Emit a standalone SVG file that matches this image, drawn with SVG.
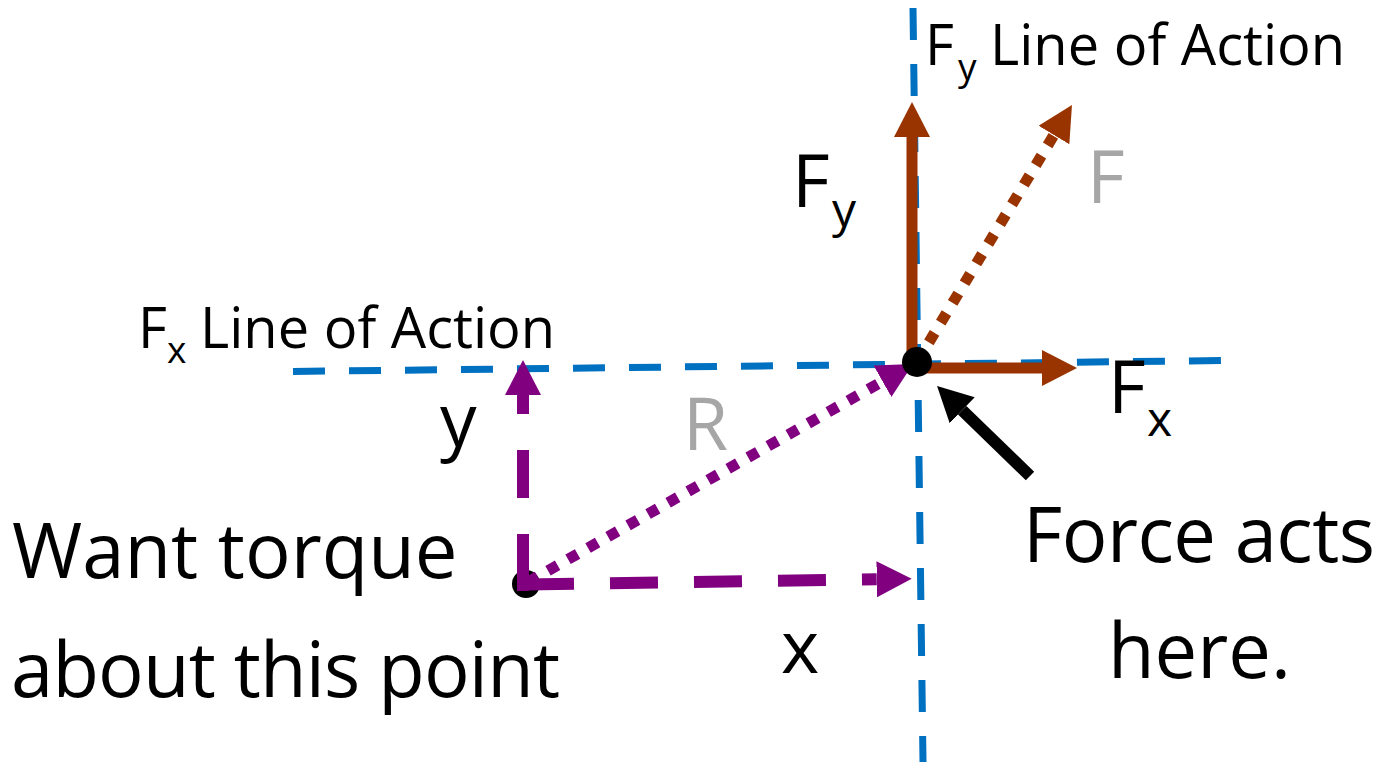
<svg xmlns="http://www.w3.org/2000/svg" width="1378" height="763" viewBox="0 0 1378 763">
<style>
text{font-family:"Open Sans","Liberation Sans",sans-serif;fill:#000}
.loa{font-size:56px}
.loasub{font-size:37px}
.big{font-size:73px}
.sub{font-size:48px}
.gray{fill:#A6A6A6}
.note{font-size:76px}
.blue{fill:none;stroke:#0070C0;stroke-width:7;stroke-dasharray:32 24}
.brown{fill:none;stroke:#993300;stroke-width:11}
.purple{fill:none;stroke:#800080;stroke-width:12}
.dots{stroke-width:11;stroke-dasharray:11 12}
</style>
<defs>
<marker id="hb" markerUnits="userSpaceOnUse" viewBox="0 0 35 36" refX="0" refY="18" markerWidth="35" markerHeight="36" orient="auto"><path d="M0,0 L35,18 L0,36 Z" fill="#993300"/></marker>
<marker id="hp" markerUnits="userSpaceOnUse" viewBox="0 0 35 36" refX="0" refY="18" markerWidth="35" markerHeight="36" orient="auto"><path d="M0,0 L35,18 L0,36 Z" fill="#800080"/></marker>
<marker id="hk" markerUnits="userSpaceOnUse" viewBox="0 0 35 36" refX="0" refY="18" markerWidth="35" markerHeight="36" orient="auto"><path d="M0,0 L35,18 L0,36 Z" fill="#000"/></marker>
</defs>
<rect width="1378" height="763" fill="#fff"/>
<g id="lines-of-action">
<path class="blue" d="M293,371.5 L1222,360.5"/>
<path class="blue" d="M913,8 L923,762"/>
</g>
<g id="origin-point">
<circle cx="526" cy="584" r="14" fill="#000"/>
</g>
<g id="connectors">
<path class="brown" d="M912,362 L912,137" marker-end="url(#hb)"/>
<path class="brown" d="M917,368 L1042,368" marker-end="url(#hb)"/>
<path class="brown dots" d="M917,362 L1053.9,135" marker-end="url(#hb)"/>
<path class="purple dots" d="M528,582 L882.5,381.3" marker-end="url(#hp)"/>
<path class="purple" stroke-dasharray="57 36 48 36" d="M523,591 L523,395" marker-end="url(#hp)"/>
<path class="purple" stroke-dasharray="48 36" d="M526,584.5 L876.7,579.3" marker-end="url(#hp)"/>
<path fill="none" stroke="#000" stroke-width="12" d="M1030,476 L962.2,410.3" marker-end="url(#hk)"/>
</g>
<g id="force-point">
<circle cx="917" cy="362" r="15" fill="#000"/>
</g>
<g id="fy-line-label">
<text class="loa"><tspan x="925" y="65">F</tspan><tspan class="loasub" x="958" y="80">y</tspan><tspan x="990" y="65">Line of Action</tspan></text>
</g>
<g id="fx-line-label">
<text class="loa"><tspan x="138" y="348">F</tspan><tspan class="loasub" x="167" y="363">x</tspan><tspan x="200" y="348">Line of Action</tspan></text>
</g>
<g id="fy-label">
<text class="big"><tspan x="792" y="207">F</tspan><tspan class="sub" x="832" y="227">y</tspan></text>
</g>
<g id="f-label">
<text class="big gray" x="1087" y="203">F</text>
</g>
<g id="fx-label">
<text class="big"><tspan x="1108" y="413">F</tspan><tspan class="sub" x="1147" y="436">x</tspan></text>
</g>
<g id="y-label">
<text class="big" x="440" y="446">y</text>
</g>
<g id="r-label">
<text class="big gray" x="683" y="450">R</text>
</g>
<g id="x-label">
<text class="big" x="781" y="673">x</text>
</g>
<g id="torque-note">
<text class="note" x="12" y="578">Want torque</text>
<text class="note" x="11" y="697" textLength="549">about this point</text>
</g>
<g id="force-note">
<text class="note" x="1023" y="562" textLength="352">Force acts</text>
<text class="note" x="1108" y="678">here.</text>
</g>
</svg>
